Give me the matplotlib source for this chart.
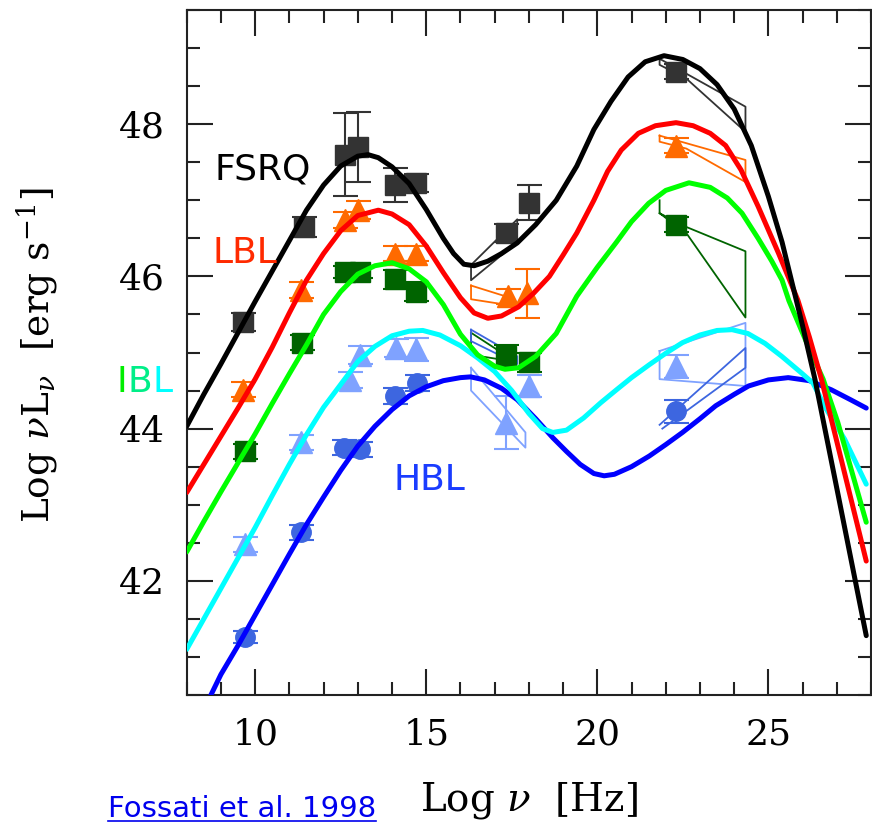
import matplotlib
matplotlib.use("Agg")
import matplotlib.pyplot as plt
from matplotlib.lines import Line2D
import numpy as np

plt.rcParams['font.family'] = 'DejaVu Serif'
plt.rcParams['mathtext.fontset'] = 'dejavuserif'

# model curves (log nu, log nuLnu)
fsrq_x = [8.0, 8.5, 9.0, 9.5, 10.0, 10.5, 11.0, 11.5, 12.0, 12.5, 13.0, 13.3, 13.6, 14.0, 14.5, 15.0, 15.5,
          15.8, 16.1, 16.4, 16.8, 17.2, 17.66, 18.2, 18.8, 19.4, 19.9, 20.4, 20.9, 21.4, 21.95, 22.5, 23.0,
          23.5, 24.0, 24.5, 25.0, 25.4, 25.7, 26.0, 26.36, 26.94, 27.86]
fsrq_y = [44.03, 44.45, 44.85, 45.26, 45.67, 46.07, 46.47, 46.87, 47.2, 47.45, 47.58, 47.6, 47.56, 47.44,
          47.22, 46.88, 46.5, 46.3, 46.16, 46.14, 46.2, 46.3, 46.44, 46.68, 47.0, 47.45, 47.93, 48.3, 48.62,
          48.82, 48.9, 48.85, 48.73, 48.52, 48.2, 47.72, 47.05, 46.45, 45.9, 45.35, 44.65, 43.35, 41.28]

lbl_x = [8.0, 8.5, 9.0, 9.5, 10.0, 10.5, 11.0, 11.5, 12.0, 12.5, 13.0, 13.6, 14.0, 14.5, 15.0, 15.5, 16.0,
         16.4, 16.8, 17.2, 17.7, 18.14, 18.6, 19.0, 19.4, 19.9, 20.3, 20.7, 21.2, 21.7, 22.3, 22.8, 23.3,
         23.75, 24.2, 24.7, 25.3, 25.86, 26.2, 26.55, 27.0, 27.86]
lbl_y = [43.16, 43.53, 43.9, 44.27, 44.65, 45.07, 45.52, 45.95, 46.3, 46.6, 46.8, 46.87, 46.82, 46.68, 46.4,
         46.05, 45.72, 45.52, 45.45, 45.48, 45.6, 45.78, 46.0, 46.28, 46.57, 47.0, 47.38, 47.66, 47.88, 47.98,
         48.02, 47.98, 47.88, 47.72, 47.4, 46.92, 46.3, 45.69, 45.2, 44.65, 43.83, 42.26]

ibl_x = [8.0, 8.5, 9.0, 9.5, 10.0, 10.5, 11.0, 11.5, 12.0, 12.5, 13.0, 13.5, 14.0, 14.5, 15.0, 15.5, 16.0,
         16.5, 17.0, 17.3, 17.7, 18.2, 18.8, 19.4, 20.0, 20.56, 21.0, 21.5, 22.0, 22.68, 23.3, 23.8, 24.23,
         24.7, 25.1, 25.4, 25.6, 26.1, 26.6, 27.03, 27.86]
ibl_y = [42.38, 42.78, 43.17, 43.55, 43.93, 44.33, 44.72, 45.1, 45.5, 45.8, 46.03, 46.14, 46.18, 46.1, 45.93,
         45.63, 45.24, 44.97, 44.82, 44.78, 44.8, 44.95, 45.25, 45.74, 46.12, 46.45, 46.72, 46.96, 47.13, 47.23,
         47.17, 47.03, 46.83, 46.5, 46.2, 45.95, 45.68, 45.15, 44.65, 44.08, 42.77]

cyan_x = [8.0, 8.5, 9.0, 9.5, 10.0, 10.5, 11.0, 11.5, 12.0, 12.5, 13.0, 13.5, 14.0, 14.5, 14.9, 15.4, 16.0,
          16.5, 17.0, 17.5, 18.0, 18.4, 18.7, 19.1, 19.6, 20.1, 20.56, 21.0, 21.52, 22.0, 22.49, 23.0, 23.5,
          23.94, 24.4, 24.9, 25.39, 25.97, 26.3, 26.7, 27.23, 27.86]
cyan_y = [41.1, 41.5, 41.9, 42.3, 42.7, 43.12, 43.53, 43.92, 44.28, 44.58, 44.88, 45.08, 45.22, 45.28, 45.29,
          45.23, 45.09, 44.93, 44.75, 44.5, 44.2, 44.0, 43.95, 43.98, 44.14, 44.34, 44.51, 44.67, 44.84, 44.99,
          45.13, 45.23, 45.29, 45.3, 45.25, 45.12, 44.95, 44.73, 44.6, 44.25, 43.86, 43.27]

hbl_x = [8.6, 9.0, 9.5, 10.0, 10.5, 11.0, 11.5, 12.0, 12.5, 13.0, 13.5, 14.0, 14.5, 15.0, 15.5, 16.0, 16.3,
         16.7, 17.2, 17.66, 18.2, 18.7, 19.1, 19.5, 19.9, 20.2, 20.5, 21.0, 21.52, 22.0, 22.49, 23.0, 23.46,
         24.0, 24.42, 25.0, 25.58, 26.2, 26.84, 27.4, 27.86]
hbl_y = [40.4, 40.77, 41.15, 41.55, 41.95, 42.35, 42.74, 43.1, 43.45, 43.77, 44.03, 44.25, 44.43, 44.55,
         44.63, 44.67, 44.68, 44.64, 44.53, 44.38, 44.13, 43.88, 43.7, 43.53, 43.41, 43.38, 43.4, 43.5, 43.64,
         43.79, 43.95, 44.13, 44.3, 44.45, 44.56, 44.64, 44.67, 44.63, 44.51, 44.38, 44.27]

# data points
sq1_x = [9.64, 11.43, 12.64, 13.02, 14.09, 14.7, 17.32, 18.0, 22.3]
sq1_y = [45.4, 46.65, 47.6, 47.7, 47.2, 47.23, 46.57, 46.97, 48.69]
sq1_e = [0.12, 0.13, 0.55, 0.46, 0.22, 0.12, 0.12, 0.23, 0.1]

tr1_x = [9.64, 11.33, 12.64, 13.02, 14.09, 14.7, 17.38, 17.96, 22.3]
tr1_y = [44.51, 45.82, 46.74, 46.87, 46.3, 46.3, 45.74, 45.78, 47.72]
tr1_e = [0.1, 0.1, 0.1, 0.12, 0.1, 0.1, 0.1, 0.32, 0.1]

sq2_x = [9.7, 11.38, 12.64, 13.07, 14.09, 14.7, 17.32, 18.0, 22.3]
sq2_y = [43.7, 45.13, 46.06, 46.06, 45.96, 45.8, 44.95, 44.87, 46.68]
sq2_e = [0.1, 0.1, 0.08, 0.08, 0.12, 0.12, 0.15, 0.12, 0.1]

tr2_x = [9.69, 11.33, 12.78, 13.07, 14.12, 14.7, 17.32, 18.0, 22.3]
tr2_y = [42.48, 43.82, 44.64, 44.97, 45.06, 45.04, 44.08, 44.56, 44.82]
tr2_e = [0.1, 0.1, 0.1, 0.12, 0.12, 0.15, 0.35, 0.15, 0.15]

ci_x = [9.69, 11.33, 12.59, 13.07, 14.09, 14.73, 22.3]
ci_y = [41.26, 42.64, 43.75, 43.73, 44.43, 44.6, 44.23]
ci_e = [0.08, 0.1, 0.1, 0.1, 0.1, 0.1, 0.15]

# bowtie outlines (x-ray and gamma-ray)
bow_fsrq = [[(16.31, 46.15), (17.66, 46.75), (17.66, 46.45), (16.31, 45.95), (16.31, 46.15)],
            [(21.82, 48.86), (24.33, 48.23), (24.33, 47.9), (22.6, 48.6), (21.82, 48.78), (21.82, 48.86)]]
bow_lbl = [[(16.31, 45.88), (17.45, 45.72), (17.45, 45.62), (16.31, 45.7), (16.31, 45.88)],
           [(21.82, 47.85), (24.33, 47.53), (24.33, 47.24), (22.6, 47.68), (21.82, 47.77), (21.82, 47.85)]]
bow_ibl = [[(16.31, 45.26), (17.3, 44.97), (17.3, 44.9), (16.31, 44.97), (16.31, 45.26)],
           [(21.82, 47.0), (21.82, 46.83), (22.6, 46.65), (24.33, 46.33), (24.33, 45.46), (22.6, 46.57), (21.82, 46.83)]]
bow_lb = [[(16.31, 44.8), (17.9, 43.95), (17.9, 43.75), (16.31, 44.5), (16.31, 44.8)],
          [(21.82, 45.02), (24.33, 45.39), (24.33, 44.56), (21.82, 44.65), (21.82, 45.02)]]
bow_hbl = [[(16.31, 45.3), (17.66, 44.95), (17.66, 44.85), (16.31, 45.15), (16.31, 45.3)],
           [(21.82, 44.05), (24.33, 45.06), (24.33, 44.8), (21.9, 44.0)]]

fig = plt.figure(figsize=(8.72, 8.22), dpi=100)
ax = fig.add_axes([0.2141, 0.1545, 0.7848, 0.8333])

c_fsrq, c_lbl, c_ibl, c_lb, c_hbl = '#333333', '#ff6a00', '#006400', '#7fa2ff', '#3d66e0'

for bows, c in [(bow_fsrq, c_fsrq), (bow_lbl, c_lbl), (bow_ibl, c_ibl), (bow_lb, c_lb), (bow_hbl, c_hbl)]:
    for b in bows:
        bx, by = zip(*b)
        ax.plot(bx, by, color=c, lw=1.3, zorder=2)

ekw = dict(linestyle='none', elinewidth=1.5, capsize=9, capthick=1.5, zorder=3)
ax.errorbar(sq1_x, sq1_y, yerr=sq1_e, marker='s', ms=14, color=c_fsrq, **ekw)
ax.errorbar(tr1_x, tr1_y, yerr=tr1_e, marker='^', ms=16, color=c_lbl, **ekw)
ax.errorbar(sq2_x, sq2_y, yerr=sq2_e, marker='s', ms=14, color=c_ibl, **ekw)
ax.errorbar(tr2_x, tr2_y, yerr=tr2_e, marker='^', ms=16, color=c_lb, **ekw)
ax.errorbar(ci_x, ci_y, yerr=ci_e, marker='o', ms=14, color=c_hbl, **ekw)

lw = 3.6
kw = dict(lw=lw, zorder=4, solid_joinstyle='round', solid_capstyle='round')
ax.plot(hbl_x, hbl_y, color='#0000ff', **kw)
ax.plot(cyan_x, cyan_y, color='#00ffff', **kw)
ax.plot(ibl_x, ibl_y, color='#00ff00', **kw)
ax.plot(lbl_x, lbl_y, color='#ff0000', **kw)
ax.plot(fsrq_x, fsrq_y, color='black', **kw)

ax.set_xlim(8, 28)
ax.set_ylim(40.5, 49.5)
ax.set_xticks([10, 15, 20, 25])
ax.set_xticks(np.arange(8, 29, 1), minor=True)
ax.set_yticks([42, 44, 46, 48])
ax.set_yticks(np.arange(40.5, 49.6, 0.5), minor=True)
ax.tick_params(which='both', direction='in', top=True, right=True, width=1.5, colors='#222222',
               labelsize=26, labelcolor='black')
ax.tick_params(which='major', length=19, pad=16)
ax.tick_params(which='minor', length=9.5)
for s in ax.spines.values():
    s.set_linewidth(1.5)
    s.set_color('#222222')

sans = 'DejaVu Sans'
ax.text(8.82, 47.27, 'FSRQ', family=sans, fontsize=26, color='black', va='baseline', zorder=5)
ax.text(8.76, 46.17, 'LBL', family=sans, fontsize=26, color='#ff2a00', va='baseline', zorder=5)
ax.text(14.04, 43.2, 'HBL', family=sans, fontsize=26, color='#1a3cff', va='baseline', zorder=5)

# IBL label: each letter in its own colour, placed one after another
renderer = fig.canvas.get_renderer()
xpos = 116.7 / 872
for ch, col in [('I', '#00ee00'), ('B', '#00ee88'), ('L', '#00ffff')]:
    t = fig.text(xpos, 1 - 391.7 / 822, ch, family=sans, fontsize=26, color=col, va='baseline')
    xpos = t.get_window_extent(renderer).x1 / 872 + 0.5 / 872

fig.text(529 / 872, 1 - 800 / 822, r'Log $\nu$  [Hz]', fontsize=28, ha='center', va='center')
fig.text(37 / 872, 1 - 355 / 822, r'Log $\nu$L$_\nu$  [erg s$^{-1}$]', fontsize=27,
         rotation=90, ha='center', va='center')

ref = fig.text(108 / 872, 1 - 817 / 822, 'Fossati et al. 1998', family=sans, fontsize=21,
               color='#0000ee', va='baseline')
x_end = ref.get_window_extent(renderer).x1 / 872
fig.add_artist(Line2D([108 / 872, x_end], [1 - 820.5 / 822, 1 - 820.5 / 822], color='#0000ee', lw=1.2))

fig.savefig('out.png', dpi=100)
